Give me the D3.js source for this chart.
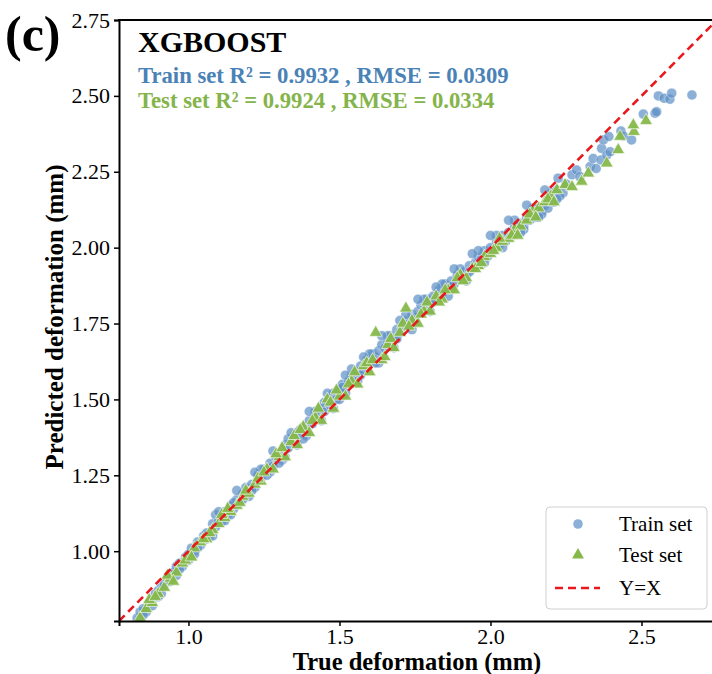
<!DOCTYPE html>
<html><head><meta charset="utf-8">
<script src="https://cdn.jsdelivr.net/npm/d3@7"></script>
<style>
html,body{margin:0;padding:0;background:#fff;}
text{font-family:"Liberation Serif","Times New Roman",serif;}
</style>
</head><body>
<svg id="c" width="712" height="674"></svg>
<script>
// ---- data (true deformation, predicted deformation), mm ----
const trainTrue = [0.83,0.84,0.85,0.86,0.87,0.88,0.89,0.90,0.91,0.92,0.93,0.94,0.95,0.96,0.97,0.98,0.99,1.00,1.01,1.02,1.03,1.04,1.05,1.06,1.07,1.08,1.09,1.10,1.11,1.12,1.13,1.14,1.15,1.16,1.17,1.18,1.19,1.20,1.21,1.22,1.23,1.24,1.25,1.26,1.27,1.28,1.29,1.30,1.31,1.32,1.33,1.34,1.35,1.36,1.37,1.38,1.39,1.40,1.41,1.42,1.43,1.44,1.45,1.46,1.47,1.48,1.49,1.50,1.51,1.52,1.53,1.54,1.55,1.56,1.57,1.58,1.59,1.60,1.61,1.62,1.63,1.64,1.65,1.66,1.67,1.68,1.69,1.70,1.71,1.72,1.73,1.74,1.75,1.76,1.77,1.78,1.79,1.80,1.81,1.82,1.83,1.84,1.85,1.86,1.87,1.88,1.89,1.90,1.91,1.92,1.93,1.94,1.95,1.96,1.97,1.98,1.99,2.00,2.01,2.02,2.03,2.04,2.05,2.06,2.07,2.08,2.09,2.10,2.11,2.12,2.13,2.14,2.15,2.16,2.17,2.18,2.19,2.20,2.21,2.22,2.224,2.24,2.25,2.27,2.285,2.296,2.33,2.34,2.35,2.366,2.368,2.374,2.385,2.392,2.396,2.432,2.44,2.467,2.506,2.545,2.55,2.556,2.575,2.594,2.60,2.667,
0.85,0.88,0.91,0.94,0.97,1.00,1.03,1.06,1.09,1.12,1.15,1.18,1.21,1.24,1.27,1.30,1.33,1.36,1.39,1.42,1.45,1.48,1.51,1.54,1.57,1.60,1.63,1.66,1.69,1.72,1.75,1.78,1.81,1.84,1.87,1.90,1.93,1.96,1.99,2.02,2.05,2.08,2.11,2.14,2.17,2.20,2.23,
1.10,1.16,1.22,1.28,1.34,1.40,1.46,1.52,1.58,1.64,1.70,1.76,1.82,1.88,1.94,2.00,2.06,2.12,2.18,
0.90,0.96,1.02,1.08,1.14,1.20,1.26,1.32,1.38,1.44,1.50,1.56,1.62,1.68,1.74,1.80,1.86,1.92,1.98,2.04,2.10,2.16,2.22];
const trainPred = [0.78,0.80,0.81,0.80,0.83,0.84,0.86,0.87,0.88,0.89,0.91,0.92,0.93,0.95,0.96,0.95,0.98,0.99,1.01,1.00,1.03,1.02,1.05,1.06,1.05,1.09,1.12,1.10,1.10,1.13,1.12,1.15,1.14,1.17,1.16,1.19,1.21,1.20,1.22,1.21,1.25,1.24,1.27,1.26,1.29,1.28,1.31,1.32,1.30,1.35,1.34,1.36,1.38,1.35,1.40,1.39,1.41,1.43,1.42,1.45,1.44,1.47,1.46,1.49,1.48,1.52,1.50,1.53,1.55,1.52,1.56,1.58,1.57,1.59,1.61,1.60,1.63,1.62,1.65,1.64,1.66,1.68,1.67,1.69,1.71,1.70,1.73,1.72,1.74,1.76,1.75,1.78,1.77,1.79,1.81,1.80,1.83,1.82,1.84,1.83,1.86,1.85,1.88,1.87,1.89,1.88,1.91,1.90,1.92,1.91,1.94,1.93,1.95,1.97,1.96,1.99,1.98,2.00,1.99,2.02,2.01,2.04,2.03,2.05,2.04,2.07,2.06,2.08,2.07,2.10,2.09,2.11,2.10,2.13,2.12,2.14,2.13,2.16,2.15,2.19,2.229,2.18,2.21,2.24,2.256,2.234,2.267,2.294,2.261,2.289,2.327,2.355,2.305,2.366,2.316,2.384,2.368,2.355,2.44,2.443,2.448,2.50,2.492,2.489,2.509,2.503,
0.79,0.82,0.86,0.90,0.94,0.97,1.01,1.04,1.08,1.10,1.16,1.17,1.20,1.27,1.26,1.29,1.37,1.39,1.38,1.46,1.49,1.47,1.54,1.60,1.58,1.65,1.62,1.71,1.70,1.78,1.76,1.83,1.82,1.88,1.86,1.93,1.92,1.99,1.97,2.04,2.02,2.09,2.06,2.13,2.11,2.18,2.17,
1.13,1.20,1.26,1.33,1.39,1.46,1.52,1.58,1.64,1.71,1.76,1.83,1.87,1.93,1.98,2.04,2.09,2.14,2.19,
0.85,0.92,0.99,1.05,1.12,1.18,1.25,1.31,1.37,1.43,1.50,1.56,1.62,1.67,1.73,1.79,1.84,1.89,1.95,2.00,2.05,2.10,2.16];
const testTrue = [0.84,0.86,0.88,0.90,0.92,0.94,0.96,0.98,1.00,1.02,1.04,1.06,1.08,1.10,1.12,1.14,1.16,1.18,1.20,1.22,1.24,1.26,1.28,1.30,1.32,1.34,1.36,1.38,1.40,1.42,1.44,1.46,1.48,1.50,1.52,1.54,1.56,1.58,1.60,1.62,1.64,1.66,1.68,1.70,1.72,1.74,1.76,1.78,1.80,1.82,1.84,1.86,1.88,1.90,1.92,1.94,1.96,1.98,2.00,2.02,2.04,2.06,2.08,2.10,2.12,2.14,2.16,2.18,2.20,2.22,2.247,2.302,2.324,2.385,2.423,2.429,2.475,2.473,2.515,
0.87,0.93,0.99,1.05,1.11,1.17,1.23,1.29,1.35,1.41,1.47,1.53,1.59,1.65,1.71,1.77,1.83,1.89,1.95,2.01,2.07,2.13,2.19,
0.89,0.95,1.01,1.07,1.13,1.19,1.25,1.31,1.37,1.43,1.49,1.55,1.61,1.67,1.73,1.79,1.85,1.91,1.97,2.03,2.09,2.15,2.21,2.27];
const testPred = [0.78,0.81,0.83,0.86,0.88,0.91,0.93,0.96,0.98,1.01,1.03,1.04,1.07,1.09,1.11,1.13,1.15,1.18,1.19,1.22,1.23,1.27,1.27,1.31,1.31,1.36,1.35,1.41,1.39,1.44,1.43,1.50,1.47,1.51,1.51,1.56,1.55,1.61,1.59,1.72,1.63,1.68,1.67,1.72,1.80,1.76,1.75,1.79,1.79,1.84,1.83,1.86,1.86,1.91,1.90,1.93,1.94,1.97,1.98,2.00,2.02,2.03,2.06,2.07,2.09,2.12,2.13,2.15,2.17,2.19,2.207,2.218,2.245,2.278,2.322,2.366,2.382,2.404,2.418,
0.84,0.92,0.97,1.04,1.12,1.16,1.24,1.32,1.38,1.43,1.49,1.55,1.62,1.64,1.75,1.78,1.82,1.90,1.93,1.99,2.04,2.11,2.16,
0.85,0.90,0.98,1.06,1.14,1.20,1.26,1.34,1.40,1.47,1.53,1.59,1.63,1.70,1.74,1.82,1.86,1.89,1.95,2.03,2.04,2.10,2.15,2.20];
const xTicks = [1.0, 1.5, 2.0, 2.5];
const yTicks = [1.00, 1.25, 1.50, 1.75, 2.00, 2.25, 2.50, 2.75];
const axisMin = 0.77, axisMax = 2.75;
const trainLabel = "Train set R\u00B2 = 0.9932 , RMSE = 0.0309";
const testLabel = "Test set R\u00B2 = 0.9924 , RMSE = 0.0334";

// ---- drawing ----
const svg = d3.select("#c");
const L = 119, R = 717, T = 20, B = 621;
const x = d3.scaleLinear().domain([axisMin, axisMax]).range([L, R]);
const y = d3.scaleLinear().domain([axisMin, axisMax]).range([B, T]);
const blue = "#5b8fc4", green = "#86b84a";

svg.append("clipPath").attr("id","clip").append("rect")
  .attr("x",L).attr("y",T).attr("width",R-L).attr("height",B-T);
const plot = svg.append("g").attr("clip-path","url(#clip)");

const train = trainTrue.map((t,i)=>[t,trainPred[i]]);
const test = testTrue.map((t,i)=>[t,testPred[i]]);

plot.selectAll("circle.tr").data(train).join("circle")
  .attr("class","tr").attr("cx",d=>x(d[0])).attr("cy",d=>y(d[1])).attr("r",5)
  .attr("fill",blue).attr("fill-opacity",0.7)
  .attr("stroke","#ffffff").attr("stroke-opacity",0.6).attr("stroke-width",0.6);

const tri = d3.symbol().type(d3.symbolTriangle).size(70);
plot.selectAll("path.te").data(test).join("path")
  .attr("class","te").attr("d",tri)
  .attr("transform",d=>`translate(${x(d[0])},${y(d[1])})`)
  .attr("fill",green).attr("fill-opacity",0.95)
  .attr("stroke","#f4f8ec").attr("stroke-width",0.7);

plot.append("line")
  .attr("x1",x(axisMin)).attr("y1",y(axisMin)).attr("x2",x(axisMax)).attr("y2",y(axisMax))
  .attr("stroke","#e8181c").attr("stroke-width",2.6).attr("stroke-dasharray","8,5");

// axes
const xa = svg.append("g").attr("transform",`translate(0,${B})`)
  .call(d3.axisBottom(x).tickValues(xTicks).tickFormat(d3.format(".1f")).tickSize(5).tickPadding(2));
const ya = svg.append("g").attr("transform",`translate(${L},0)`)
  .call(d3.axisLeft(y).tickValues(yTicks).tickFormat(d3.format(".2f")).tickSize(5).tickPadding(4));
[xa,ya].forEach(g=>{
  g.selectAll("path.domain").attr("stroke","#000").attr("stroke-width",2);
  g.selectAll(".tick line").attr("stroke","#000").attr("stroke-width",1.5);
  g.selectAll(".tick text").attr("fill","#000").style("font-size","22px")
   .style("font-family","'Liberation Serif',serif");
});
svg.append("line").attr("x1",L-1).attr("x2",R).attr("y1",T).attr("y2",T)
  .attr("stroke","#000").attr("stroke-width",2);
svg.append("line").attr("x1",R).attr("x2",R).attr("y1",T).attr("y2",B)
  .attr("stroke","#000").attr("stroke-width",2);

// axis labels
svg.append("text").attr("x",(L+R)/2 - 1).attr("y",670).attr("text-anchor","middle")
  .style("font-size","24.5px").style("font-weight","bold").text("True deformation (mm)");
svg.append("text").attr("transform","translate(63,317) rotate(-90)").attr("text-anchor","middle")
  .style("font-size","25px").style("font-weight","bold").text("Predicted deformation (mm)");

// panel label and title texts
svg.append("text").attr("x",5).attr("y",51).style("font-size","50px").style("font-weight","bold").text("(c)");
svg.append("text").attr("x",138).attr("y",52).style("font-size","30px").style("font-weight","bold").text("XGBOOST");
svg.append("text").attr("x",138).attr("y",83).style("font-size","22.7px").style("font-weight","bold")
  .attr("fill","#4a82b6").text(trainLabel);
svg.append("text").attr("x",138).attr("y",108).style("font-size","22.7px").style("font-weight","bold")
  .attr("fill","#84b44a").text(testLabel);

// legend
const lg = svg.append("g");
lg.append("rect").attr("x",546).attr("y",507).attr("width",161).attr("height",102).attr("rx",4)
  .attr("fill","#fff").attr("fill-opacity",0.85).attr("stroke","#d0d0d0").attr("stroke-width",1);
lg.append("circle").attr("cx",578).attr("cy",524).attr("r",4.8).attr("fill",blue).attr("fill-opacity",0.7);
lg.append("path").attr("d",d3.symbol().type(d3.symbolTriangle).size(62)).attr("transform","translate(578,555)").attr("fill",green);
lg.append("line").attr("x1",555).attr("x2",600).attr("y1",588).attr("y2",588)
  .attr("stroke","#e8181c").attr("stroke-width",2.6).attr("stroke-dasharray","8,5");
[["Train set",531],["Test set",562],["Y=X",595]].forEach(([t,yy])=>{
  lg.append("text").attr("x",619).attr("y",yy).style("font-size","21px").text(t);
});
</script>
</body></html>
